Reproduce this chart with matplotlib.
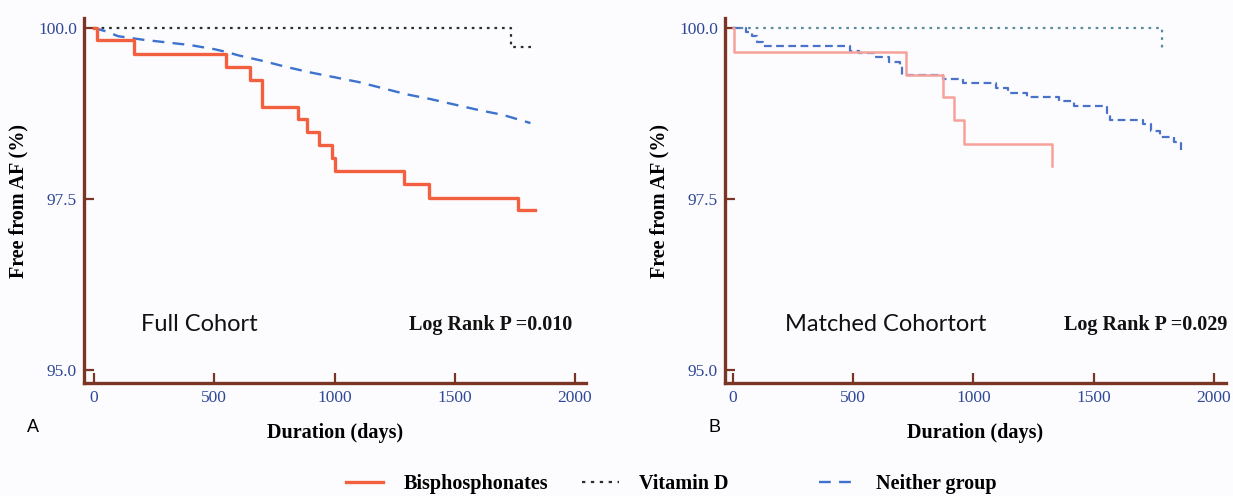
import numpy as np
import matplotlib
matplotlib.use("Agg")
import matplotlib.pyplot as plt
from matplotlib.lines import Line2D

# ---- data (days, % free from AF) ----
# panel A, full cohort
bis_a_days = [0, 11, 168, 550, 649, 700, 848, 885, 936, 988, 1000, 1288, 1392, 1763, 1835]
bis_a_vals = [100.0, 99.82, 99.625, 99.43, 99.245, 98.85, 98.67, 98.48, 98.29, 98.10, 97.91, 97.72, 97.51, 97.34, 97.34]
vitd_a_days = [0, 1733, 1829]
vitd_a_vals = [100.0, 99.72, 99.72]
nei_a_days = [0, 50, 100, 200, 300, 400, 500, 550, 600, 700, 800, 900, 1000, 1100,
              1200, 1300, 1400, 1500, 1600, 1700, 1815]
nei_a_vals = [100.0, 99.95, 99.88, 99.83, 99.79, 99.75, 99.69, 99.65, 99.60, 99.52, 99.43,
              99.35, 99.28, 99.21, 99.12, 99.03, 98.96, 98.88, 98.80, 98.73, 98.61]

# panel B, matched cohort
bis_b_days = [0, 6, 720, 875, 919, 959, 1327]
bis_b_vals = [100.0, 99.65, 99.32, 98.99, 98.66, 98.31, 97.98]
vitd_b_days = [0, 1785]
vitd_b_vals = [100.0, 99.65]
nei_b_days = [0, 54, 78, 102, 127, 485, 525, 590, 647, 696, 704, 875, 956, 1094, 1143,
              1224, 1354, 1419, 1554, 1566, 1704, 1737, 1777, 1834, 1863]
nei_b_vals = [100.0, 99.94, 99.88, 99.80, 99.73, 99.67, 99.63, 99.58, 99.51, 99.44, 99.32,
              99.26, 99.20, 99.12, 99.05, 98.99, 98.93, 98.86, 98.76, 98.66, 98.59, 98.49,
              98.41, 98.34, 98.18]

x_ticks = [0, 500, 1000, 1500, 2000]
y_ticks = [95.0, 97.5, 100.0]

spine_col = "#7b3524"
tick_col = "#2f4796"
serif = ["Liberation Serif", "DejaVu Serif"]

fig = plt.figure(figsize=(12.33, 4.96), dpi=100)
fig.patch.set_facecolor("#fcfcfe")

ax_a = fig.add_axes([84 / 1233, 1 - 383 / 496, 502 / 1233, 365 / 496])
ax_b = fig.add_axes([725 / 1233, 1 - 383 / 496, 501 / 1233, 365 / 496])


def style(ax, xmin, xmax):
    ax.set_facecolor("#fcfcfe")
    ax.set_xlim(xmin, xmax)
    ax.set_ylim(94.81, 100.146)
    for s in ["top", "right"]:
        ax.spines[s].set_visible(False)
    for s in ["left", "bottom"]:
        ax.spines[s].set_color(spine_col)
        ax.spines[s].set_linewidth(2.4)
    ax.set_xticks(x_ticks)
    ax.set_yticks(y_ticks)
    ax.set_yticklabels(["%.1f" % v for v in y_ticks])
    ax.tick_params(direction="in", length=7, width=1.6, color=spine_col,
                   labelcolor=tick_col, labelsize=12.5, pad=5)
    for lab in ax.get_xticklabels() + ax.get_yticklabels():
        lab.set_family(serif)
    ax.set_ylabel("Free from AF (%)", family=serif, fontweight="bold", fontsize=14.5, labelpad=7)
    ax.set_xlabel("Duration (days)", family=serif, fontweight="bold", fontsize=14.5, labelpad=12)


style(ax_a, -42, 2046)
style(ax_b, -33, 2050)

# panel A
ax_a.step(vitd_a_days, vitd_a_vals, where="post", color="#27302f", lw=1.6, ls=(0, (1.2, 2.2)))
ax_a.plot(nei_a_days, nei_a_vals, color="#3d73cf", lw=1.7, ls=(0, (5, 3.5)))
ax_a.step(bis_a_days, bis_a_vals, where="post", color="#f2603f", lw=2.4)

# panel B
ax_b.step(vitd_b_days, vitd_b_vals, where="post", color="#5a8b9c", lw=1.6, ls=(0, (1.2, 2.2)))
ax_b.step(nei_b_days, nei_b_vals, where="post", color="#4a72c9", lw=1.6, ls=(0, (3.5, 2)))
ax_b.step(bis_b_days, bis_b_vals, where="post", color="#f6a29b", lw=1.8)

ax_a.text(0.23, 0.16, "Full Cohort", transform=ax_a.transAxes, ha="center", va="center",
          family="Lato", fontsize=17, color="#111111")
ax_a.text(0.81, 0.16, "Log Rank P =0.010", transform=ax_a.transAxes, ha="center", va="center",
          family=serif, fontweight="bold", fontsize=14.5, color="#111111")
ax_b.text(0.32, 0.16, "Matched Cohortort", transform=ax_b.transAxes, ha="center", va="center",
          family="Lato", fontsize=17, color="#111111")
ax_b.text(0.84, 0.16, "Log Rank P =0.029", transform=ax_b.transAxes, ha="center", va="center",
          family=serif, fontweight="bold", fontsize=14.5, color="#111111")

fig.text(33 / 1233, 1 - 428 / 496, "A", ha="center", va="center", family="Liberation Sans", fontsize=13)
fig.text(714 / 1233, 1 - 428 / 496, "B", ha="center", va="center", family="Liberation Sans", fontsize=13)

# legend, three separate entries to mimic the uneven spacing
leg_items = [
    ("Bisphosphonates", dict(color="#f2603f", lw=2.4), 346),
    ("Vitamin D", dict(color="#27302f", lw=1.6, ls=(0, (1.5, 2.5))), 582),
    ("Neither group", dict(color="#3d73cf", lw=1.7, ls=(0, (5, 3.5))), 819),
]
for label, kw, x0 in leg_items:
    fig.legend([Line2D([], [], **kw)], [label], loc="center left",
               bbox_to_anchor=(x0 / 1233, 1 - 484 / 496), frameon=False,
               borderpad=0, borderaxespad=0, handlelength=1.85, handletextpad=1.0,
               prop=dict(family=serif, weight="bold", size=14.5))

fig.savefig("out.png", dpi=100, facecolor=fig.get_facecolor())
